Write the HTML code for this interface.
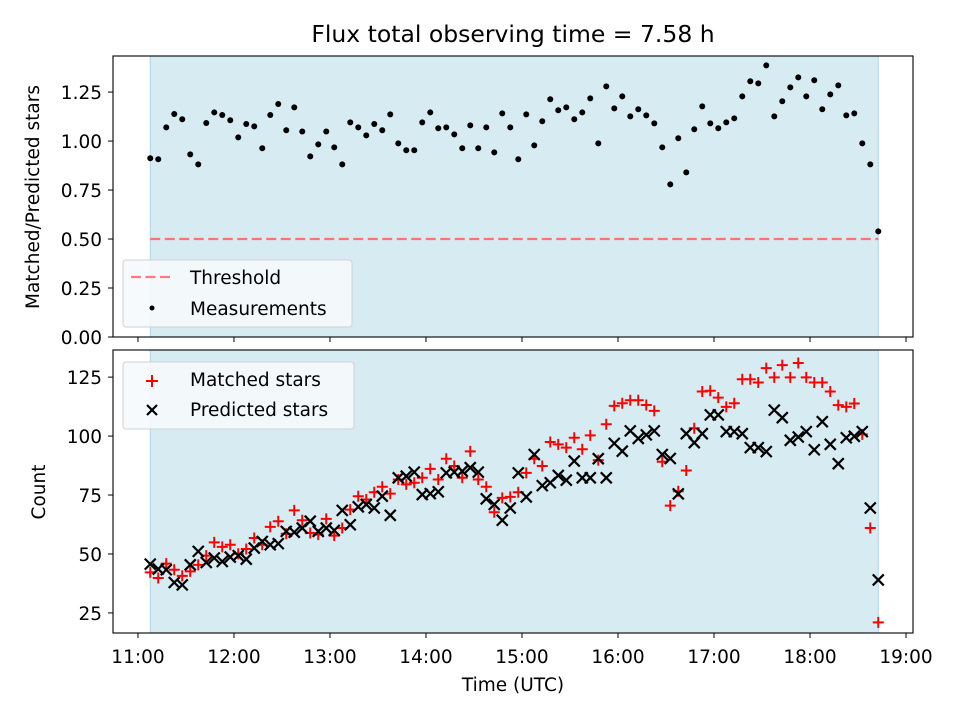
<!DOCTYPE html>
<html><head><meta charset="utf-8"><style>
body{margin:0;background:#fff;}
svg{display:block;font-family:"DejaVu Sans","Liberation Sans",sans-serif;}
</style></head><body>
<svg id="chart" width="960" height="720" viewBox="0 0 960 720"></svg>
<script>
const ratio=[0.912,0.907,1.070,1.138,1.111,0.932,0.881,1.092,1.146,1.133,1.106,1.019,1.087,1.075,0.963,1.133,1.189,1.055,1.172,1.049,0.922,0.983,1.049,0.968,0.881,1.095,1.070,1.029,1.087,1.055,1.136,0.988,0.953,0.953,1.095,1.146,1.065,1.070,1.034,0.963,1.080,0.963,1.070,0.942,1.141,1.070,0.907,1.136,0.978,1.101,1.213,1.157,1.172,1.111,1.146,1.218,0.988,1.279,1.167,1.228,1.126,1.162,1.131,1.090,0.968,0.779,1.014,0.840,1.060,1.177,1.090,1.065,1.095,1.116,1.228,1.305,1.294,1.386,1.126,1.203,1.274,1.325,1.228,1.310,1.162,1.238,1.284,1.131,1.141,0.988,0.881,0.539];
const matched=[42.2,39.8,45.9,43.3,40.7,42.6,45.4,49.3,54.9,53,53.9,50.1,52.1,56.8,53.9,61.5,63.9,58.6,68.5,64.3,58.9,58.2,64.9,57.8,61,68.8,74.5,73.1,76.2,78.5,75.6,81.6,79.5,80.2,82.3,86.1,81.6,90.4,87.3,82.3,93.5,81.6,78.5,67.7,73.8,74.2,76.2,84.4,90.4,87.3,97.5,96.5,95.1,99.3,94.4,100.3,89.8,105,112.8,113.9,115.2,115.2,113.2,110.7,89.1,70.5,76.6,85.4,103.3,118.9,119.2,116.3,112.4,113.9,124.1,124.1,122.7,128.8,124.9,130.1,124.9,131,124.9,122.7,122.7,118.9,113.1,112.4,113.8,100.7,61,21];
const predicted=[45.7,43.6,43.3,37.9,36.9,45.4,51.1,46.4,48.3,46.8,48.7,49.3,47.8,52.5,55.3,53.9,54.4,59.6,59.2,61,63.9,59.6,61,60,68.5,62.4,70,71,69.5,74.5,66.4,82.3,83,84.7,75.2,75.6,76.4,84.4,84.7,85.1,86.6,84.7,73.4,71,64.3,69.5,84.4,74.2,92.2,79,80.2,83.3,81.3,89.4,82.3,82.3,90.4,82.3,96.9,93.6,102.2,99,100.5,102.2,92.2,90.5,75.5,101,97.2,101,109,109,101.9,101.9,101,95.1,95.1,93.4,111,107.8,98.2,99.6,101.9,94.2,106.1,96.5,88.3,99.3,99.9,101.9,69.5,39];
const startHour=11.128, stepMin=5;
const xTicks=["11:00","12:00","13:00","14:00","15:00","16:00","17:00","18:00","19:00"];
const topTicks=[0,0.25,0.5,0.75,1.0,1.25];
const botTicks=[25,50,75,100,125];
const threshold=0.5;

const times=ratio.map((_,i)=>startHour+i*stepMin/60);
const NS="http://www.w3.org/2000/svg";
const svg=document.getElementById('chart');
function el(tag,attrs,parent){const e=document.createElementNS(NS,tag);for(const k in attrs)e.setAttribute(k,attrs[k]);(parent||svg).appendChild(e);return e;}
const L=113,R=913;
const xMin=10.74,xMax=19.073;
const X=t=>L+(t-xMin)/(xMax-xMin)*(R-L);
const T1=56,B1=337,B2=633,T2=350;
const Y1=v=>B1-v/1.434*(B1-T1);
const Y2=v=>633-(v-16.49)/(136.5-16.49)*(633-350);

function panel(top,bot,name){
  const g=el('g',{});
  
  
  const sh=el('rect',{x:X(times[0]),y:top,width:X(times[times.length-1])-X(times[0]),height:bot-top,fill:'#add8e6','fill-opacity':0.5,stroke:'#add8e6','stroke-width':1},g);
  
  
  return g;
}
function frame(top,bot,name){
  const f=el('rect',{x:L,y:top,width:R-L,height:bot-top,fill:'none',stroke:'#000','stroke-width':1.1});
  
  
}
function xAxis(bot,labels,name){
  const g=el('g',{});
  
  
  xTicks.forEach((s,i)=>{
    const x=X(11+i);
    el('line',{x1:x,x2:x,y1:bot,y2:bot+5,stroke:'#000','stroke-width':1},g);
    if(labels){const t=el('text',{x:x,y:bot+30,'font-size':18.5,'text-anchor':'middle'},g);t.textContent=s;
      
      }
  });
}
function yAxis(ticks,Y,fmt,name){
  const g=el('g',{});
  
  
  ticks.forEach(v=>{
    const y=Y(v);
    el('line',{x1:L-5,x2:L,y1:y,y2:y,stroke:'#000','stroke-width':1},g);
    const t=el('text',{x:L-11,y:y+7,'font-size':18.5,'text-anchor':'end'},g);t.textContent=fmt(v);
    
    
  });
}
panel(T1,B1,'ratio-panel');
const th=el('line',{x1:X(times[0]),x2:X(times[times.length-1]),y1:Y1(threshold),y2:Y1(threshold),stroke:'#ff6b6b','stroke-width':2.2,'stroke-dasharray':'10,4.5','stroke-opacity':0.95});


ratio.forEach((v,i)=>{
  const c=el('circle',{cx:X(times[i]),cy:Y1(v),r:3,fill:'#000'});
  
  
});
frame(T1,B1,'ratio-axes');
xAxis(B1,false,'top-x-axis');
yAxis(topTicks,Y1,v=>v.toFixed(2),'top-y-axis');
panel(T2,B2,'count-panel');
matched.forEach((v,i)=>{
  const x=X(times[i]),y=Y2(v);
  const p=el('path',{d:`M${x-5.5},${y}H${x+5.5}M${x},${y-5.5}V${y+5.5}`,stroke:'#ff0000','stroke-width':2,fill:'none'});
  
  
});
predicted.forEach((v,i)=>{
  const x=X(times[i]),y=Y2(v);
  const p=el('path',{d:`M${x-5.5},${y-5.5}L${x+5.5},${y+5.5}M${x-5.5},${y+5.5}L${x+5.5},${y-5.5}`,stroke:'#000','stroke-width':2.2,fill:'none'});
  
  
});
frame(T2,B2,'count-axes');
xAxis(B2,true,'bottom-x-axis');
yAxis(botTicks,Y2,v=>String(v),'bottom-y-axis');
</script>
<svg width="960" height="720" style="position:absolute;left:0;top:0">
  <text x="513" y="42" font-size="23.5" text-anchor="middle" font-family="DejaVu Sans, Liberation Sans, sans-serif">Flux total observing time = 7.58 h</text>
  <text transform="translate(39,197) rotate(-90)" font-size="18.5" text-anchor="middle" font-family="DejaVu Sans, Liberation Sans, sans-serif">Matched/Predicted stars</text>
  <text transform="translate(45,492) rotate(-90)" font-size="18.5" text-anchor="middle" font-family="DejaVu Sans, Liberation Sans, sans-serif">Count</text>
  <text x="513" y="691" font-size="18.5" text-anchor="middle" font-family="DejaVu Sans, Liberation Sans, sans-serif">Time (UTC)</text>
  <g font-family="DejaVu Sans, Liberation Sans, sans-serif" font-size="18.5">
    <rect x="123" y="260" width="229" height="67" rx="3" fill="#f6fafc" fill-opacity="0.9" stroke="#d0d0d0"/>
    <line x1="131" y1="277" x2="172" y2="277" stroke="#ff7b7b" stroke-width="2.2" stroke-dasharray="10,4.5"/>
    <text x="190" y="284">Threshold</text>
    <circle cx="152" cy="308" r="2.5" fill="#000"/>
    <text x="190" y="315">Measurements</text>
  </g>
  <g font-family="DejaVu Sans, Liberation Sans, sans-serif" font-size="18.5">
    <rect x="123" y="362" width="231" height="67" rx="3" fill="#f6fafc" fill-opacity="0.9" stroke="#d0d0d0"/>
    <path d="M146,381H158M152,375V387" stroke="#ff0000" stroke-width="2"/>
    <text x="190" y="386">Matched stars</text>
    <path d="M147,405L157,415M147,415L157,405" stroke="#000" stroke-width="2.2"/>
    <text x="190" y="416">Predicted stars</text>
  </g>
</svg>
</body></html>
